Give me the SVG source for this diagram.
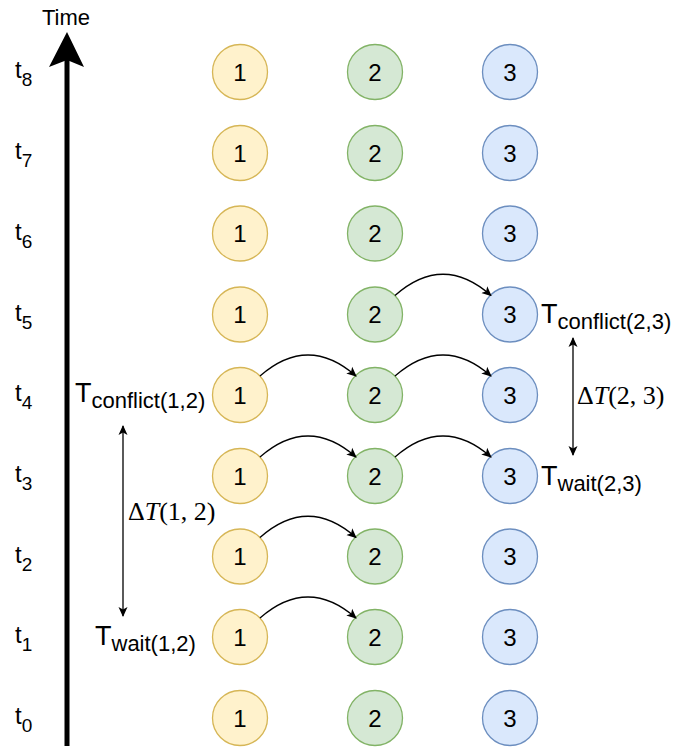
<svg xmlns="http://www.w3.org/2000/svg" width="688" height="750" viewBox="0 0 688 750">
<style>
text{font-family:"Liberation Sans",Arial,sans-serif;fill:#000}
.n{font-size:24px;text-anchor:middle;dominant-baseline:central}
.c1{fill:#fff2cc;stroke:#d6b656;stroke-width:1.3}
.c2{fill:#d5e8d4;stroke:#82b366;stroke-width:1.3}
.c3{fill:#dae8fc;stroke:#6c8ebf;stroke-width:1.3}
.t{font-size:24px}
.s{font-size:19px}
.L{font-size:27px}
.ls{font-size:22px}
.e{fill:none;stroke:#000;stroke-width:1.3}
.m{font-family:"Liberation Serif","Times New Roman",serif;font-size:26px}
</style>
<defs>
<marker id="a" viewBox="0 0 10 10" refX="9" refY="5" markerWidth="10" markerHeight="10" markerUnits="userSpaceOnUse" orient="auto">
<path d="M0,0.5 L10,5 L0,9.5 L2.5,5 Z" fill="#000"/>
</marker>
<marker id="b" viewBox="0 0 10 10" refX="9" refY="5" markerWidth="10" markerHeight="10" markerUnits="userSpaceOnUse" orient="auto-start-reverse">
<path d="M0,0.5 L10,5 L0,9.5 L2.5,5 Z" fill="#000"/>
</marker>
</defs>

<g id="time-axis">
<line x1="67" y1="746" x2="67" y2="60" stroke="#000" stroke-width="5"/>
<path d="M67,32 L84,67 L67,60 L49,67 Z" fill="#000"/>
<text x="66" y="25" font-size="22" text-anchor="middle">Time</text>
</g>

<g id="time-labels">
<text class="t" x="15" y="78">t<tspan class="s" dy="8">8</tspan></text>
<text class="t" x="15" y="159">t<tspan class="s" dy="8">7</tspan></text>
<text class="t" x="15" y="239.5">t<tspan class="s" dy="8">6</tspan></text>
<text class="t" x="15" y="320.5">t<tspan class="s" dy="8">5</tspan></text>
<text class="t" x="15" y="401">t<tspan class="s" dy="8">4</tspan></text>
<text class="t" x="15" y="482">t<tspan class="s" dy="8">3</tspan></text>
<text class="t" x="15" y="562.5">t<tspan class="s" dy="8">2</tspan></text>
<text class="t" x="15" y="643">t<tspan class="s" dy="8">1</tspan></text>
<text class="t" x="15" y="724">t<tspan class="s" dy="8">0</tspan></text>
</g>

<g id="row-t8"><circle class="c1" cx="240" cy="72" r="27.5"/><text class="n" x="240" y="72">1</text><circle class="c2" cx="375" cy="72" r="27.5"/><text class="n" x="375" y="72">2</text><circle class="c3" cx="510" cy="72" r="27.5"/><text class="n" x="510" y="72">3</text></g>
<g id="row-t7"><circle class="c1" cx="240" cy="153" r="27.5"/><text class="n" x="240" y="153">1</text><circle class="c2" cx="375" cy="153" r="27.5"/><text class="n" x="375" y="153">2</text><circle class="c3" cx="510" cy="153" r="27.5"/><text class="n" x="510" y="153">3</text></g>
<g id="row-t6"><circle class="c1" cx="240" cy="233.5" r="27.5"/><text class="n" x="240" y="233.5">1</text><circle class="c2" cx="375" cy="233.5" r="27.5"/><text class="n" x="375" y="233.5">2</text><circle class="c3" cx="510" cy="233.5" r="27.5"/><text class="n" x="510" y="233.5">3</text></g>
<g id="row-t5"><circle class="c1" cx="240" cy="314.5" r="27.5"/><text class="n" x="240" y="314.5">1</text><circle class="c2" cx="375" cy="314.5" r="27.5"/><text class="n" x="375" y="314.5">2</text><circle class="c3" cx="510" cy="314.5" r="27.5"/><text class="n" x="510" y="314.5">3</text></g>
<g id="row-t4"><circle class="c1" cx="240" cy="395" r="27.5"/><text class="n" x="240" y="395">1</text><circle class="c2" cx="375" cy="395" r="27.5"/><text class="n" x="375" y="395">2</text><circle class="c3" cx="510" cy="395" r="27.5"/><text class="n" x="510" y="395">3</text></g>
<g id="row-t3"><circle class="c1" cx="240" cy="476" r="27.5"/><text class="n" x="240" y="476">1</text><circle class="c2" cx="375" cy="476" r="27.5"/><text class="n" x="375" y="476">2</text><circle class="c3" cx="510" cy="476" r="27.5"/><text class="n" x="510" y="476">3</text></g>
<g id="row-t2"><circle class="c1" cx="240" cy="556.5" r="27.5"/><text class="n" x="240" y="556.5">1</text><circle class="c2" cx="375" cy="556.5" r="27.5"/><text class="n" x="375" y="556.5">2</text><circle class="c3" cx="510" cy="556.5" r="27.5"/><text class="n" x="510" y="556.5">3</text></g>
<g id="row-t1"><circle class="c1" cx="240" cy="637" r="27.5"/><text class="n" x="240" y="637">1</text><circle class="c2" cx="375" cy="637" r="27.5"/><text class="n" x="375" y="637">2</text><circle class="c3" cx="510" cy="637" r="27.5"/><text class="n" x="510" y="637">3</text></g>
<g id="row-t0"><circle class="c1" cx="240" cy="718" r="27.5"/><text class="n" x="240" y="718">1</text><circle class="c2" cx="375" cy="718" r="27.5"/><text class="n" x="375" y="718">2</text><circle class="c3" cx="510" cy="718" r="27.5"/><text class="n" x="510" y="718">3</text></g>

<g id="connectors">
<path class="e" d="M395,295.5 Q443,253 491,295.5" marker-end="url(#a)"/>
<path class="e" d="M260,376 Q308,334 356,376" marker-end="url(#a)"/>
<path class="e" d="M395,376 Q443,334 491,376" marker-end="url(#a)"/>
<path class="e" d="M260,457 Q308,415 356,457" marker-end="url(#a)"/>
<path class="e" d="M395,457 Q443,415 491,457" marker-end="url(#a)"/>
<path class="e" d="M260,537.5 Q308,495 356,537.5" marker-end="url(#a)"/>
<path class="e" d="M260,618 Q308,576 356,618" marker-end="url(#a)"/>
<line class="e" x1="123" y1="426" x2="123" y2="616" marker-start="url(#b)" marker-end="url(#b)"/>
<line class="e" x1="573" y1="338" x2="573" y2="455" marker-start="url(#b)" marker-end="url(#b)"/>
</g>

<g id="labels">
<text class="L" x="75" y="402">T<tspan class="ls" dy="6">conflict(1,2)</tspan></text>
<text class="L" x="95" y="645">T<tspan class="ls" dy="6">wait(1,2)</tspan></text>
<text class="L" x="541" y="323">T<tspan class="ls" dy="6">conflict(2,3)</tspan></text>
<text class="L" x="541" y="485">T<tspan class="ls" dy="6">wait(2,3)</tspan></text>
<text class="m" x="128" y="520">Δ<tspan font-style="italic">T</tspan>(1, 2)</text>
<text class="m" x="577" y="404">Δ<tspan font-style="italic">T</tspan>(2, 3)</text>
</g>
</svg>
